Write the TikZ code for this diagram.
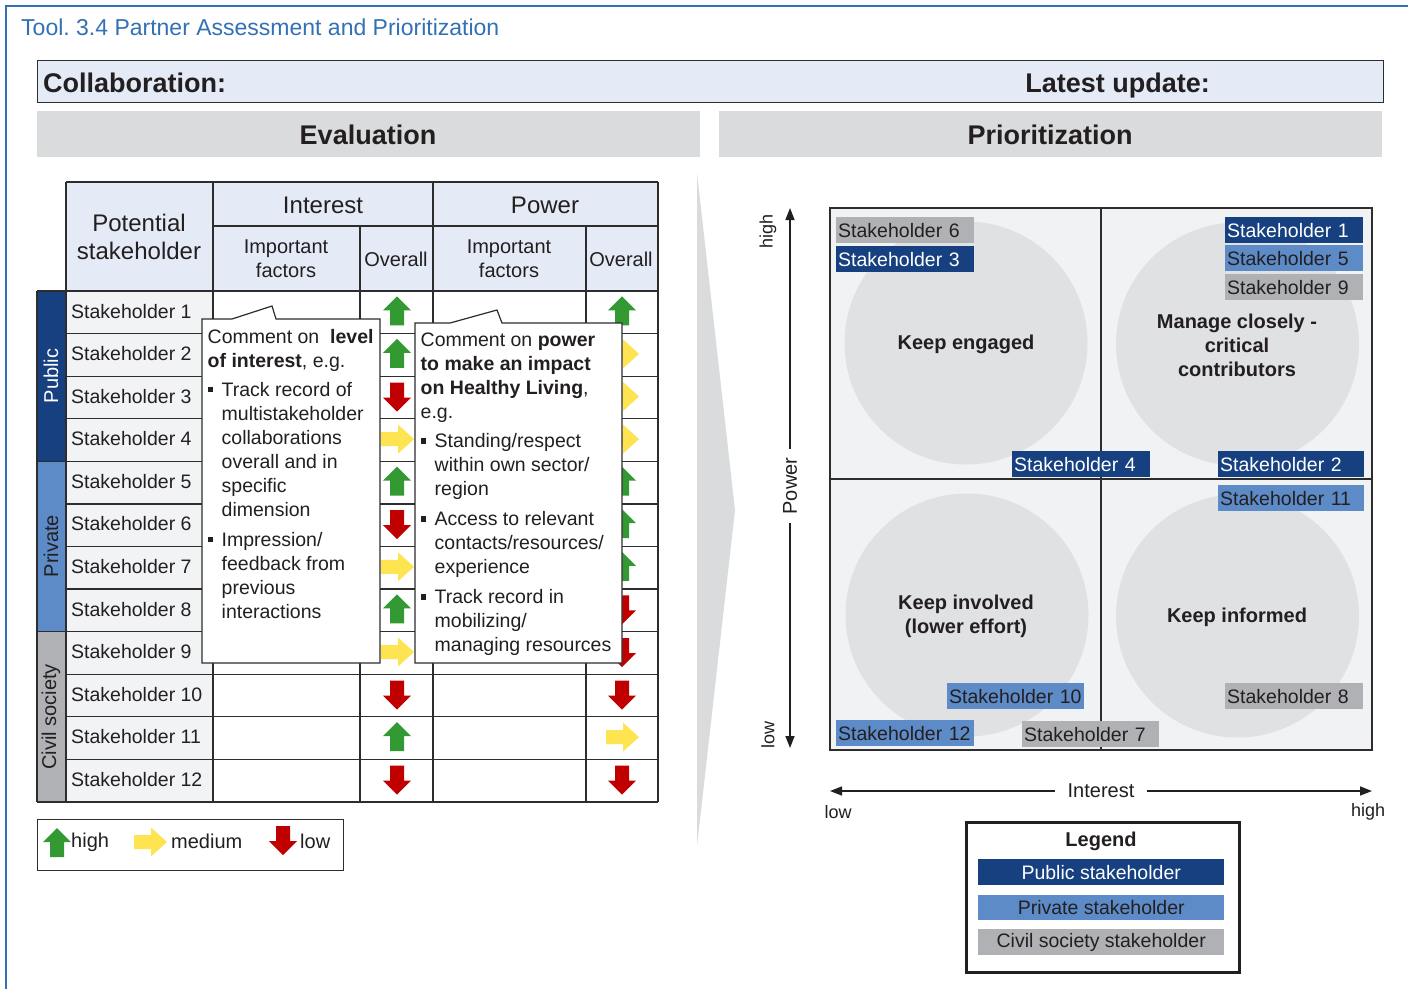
\documentclass[tikz,border=0pt]{standalone}
\usepackage{fontspec}
\setmainfont{Liberation Sans}
\usetikzlibrary{arrows.meta}
\frenchspacing
\definecolor{titleblue}{RGB}{52,112,180}
\definecolor{pubblue}{RGB}{22,64,128}
\definecolor{privblue}{RGB}{93,139,200}
\definecolor{civgray}{RGB}{176,177,181}
\definecolor{hdrblue}{RGB}{228,235,246}
\definecolor{bargray}{RGB}{218,219,221}
\definecolor{cellgray}{RGB}{242,243,245}
\definecolor{quadgray}{RGB}{241,242,244}
\definecolor{circgray}{RGB}{224,225,227}
\definecolor{linegray}{RGB}{45,45,45}
\definecolor{txt}{RGB}{35,31,32}
\definecolor{arrgreen}{RGB}{51,153,51}
\definecolor{arrred}{RGB}{192,0,0}
\definecolor{arryellow}{RGB}{253,228,80}
\newcommand\fs[2]{\fontsize{#1}{#2}\selectfont}
\newcommand\bul{\makebox[14pt][l]{\rule[4pt]{5.5pt}{5.5pt}}}
\newcommand\ind{\hspace*{14pt}}
\begin{document}
\begin{tikzpicture}[x=1pt,y=-1pt,
  every node/.style={inner sep=0pt, text=txt},
  grid/.style={draw=linegray, line width=1.3pt},
  stk/.style={font=\fs{19.5}{24}, anchor=west},
  hdr/.style={font=\fs{24}{28}, align=center},
  sub/.style={font=\fs{20}{24}, align=center},
  tag/.style={anchor=north west, font=\fs{19.5}{24}, inner xsep=2pt, inner ysep=0pt, minimum height=26pt, align=left},
  quad/.style={font=\fs{20}{24}\bfseries, align=center},
  callout/.style={fill=white, draw=linegray, line width=1.2pt},
  ctext/.style={anchor=north west, font=\fs{19.5}{24}, align=left},
  axis/.style={draw=txt, line width=1.5pt, {Triangle[length=12pt,width=9pt]}-{Triangle[length=12pt,width=9pt]}},
  upA/.pic={\fill[arrgreen] (0,-15)--(14,-1)--(7,-1)--(7,14)--(-7,14)--(-7,-1)--(-14,-1)--cycle;},
  dnA/.pic={\fill[arrred] (0,15)--(14,1)--(7,1)--(7,-14)--(-7,-14)--(-7,1)--(-14,1)--cycle;},
  rtA/.pic={\fill[arryellow] (17,0)--(1,-14.5)--(1,-7)--(-16,-7)--(-16,7)--(1,7)--(1,14.5)--cycle;}
]
\useasboundingbox (0,0) rectangle (1408,989);
\fill[white] (0,0) rectangle (1408,989);

% frame and title
\draw[titleblue, line width=2pt] (6,989) -- (6,6) -- (1408,6);
\node[anchor=west, text=titleblue, font=\fs{23}{26}] (title) at (21,27) {Tool. 3.4 Partner Assessment and Prioritization};

% collaboration bar
\node[draw=linegray, line width=1.3pt, fill=hdrblue, anchor=north west, minimum width=1346pt, minimum height=42pt] (collab) at (37,60) {};
\node[anchor=base west, font=\fs{27}{30}\bfseries] (collabt) at (43,92) {Collaboration:};
\node[anchor=base east, font=\fs{27}{30}\bfseries] (latest) at (1210,92) {Latest update:};

% section bars
\node[fill=bargray, anchor=north west, minimum width=663pt, minimum height=46pt] (evalbar) at (37,111) {};
\node[anchor=base, font=\fs{27}{30}\bfseries] (evalt) at (368,144) {Evaluation};
\node[fill=bargray, anchor=north west, minimum width=663pt, minimum height=46pt] (priobar) at (719,111) {};
\node[anchor=base, font=\fs{27}{30}\bfseries] (priot) at (1050,144) {Prioritization};

% chevron
\fill[bargray] (697,173) -- (735,510) -- (697,846) -- cycle;

% ---------- table ----------
\fill[hdrblue] (66,182) rectangle (658,291);
\fill[cellgray] (66,291) rectangle (213,802);
\fill[pubblue] (37,291) rectangle (66,461.3);
\fill[privblue] (37,461.3) rectangle (66,631.7);
\fill[civgray] (37,631.7) rectangle (66,802);
\foreach \i in {0,...,12} {
  \draw[grid] (66,291+42.583*\i) -- (658,291+42.583*\i);
}
\draw[grid] (37,291) -- (66,291);
\draw[grid] (37,461.3) -- (66,461.3);
\draw[grid] (37,631.7) -- (66,631.7);
\draw[grid] (37,802) -- (66,802);
\draw[grid] (66,182) -- (658,182);
\draw[grid] (213,226) -- (658,226);
\draw[grid] (37,291) -- (37,802);
\draw[grid] (66,182) -- (66,802);
\draw[grid] (213,182) -- (213,802);
\draw[grid] (360,226) -- (360,802);
\draw[grid] (433,182) -- (433,802);
\draw[grid] (586,226) -- (586,802);
\draw[grid] (658,182) -- (658,802);

\node[hdr] (hpot) at (139,237) {Potential\\stakeholder};
\node[hdr] (hint) at (323,205) {Interest};
\node[hdr] (hpow) at (545,205) {Power};
\node[sub] (hif1) at (286,259) {Important\\factors};
\node[sub] (hov1) at (396,259) {Overall};
\node[sub] (hif2) at (509,259) {Important\\factors};
\node[sub] (hov2) at (621,259) {Overall};

\node[rotate=90, font=\fs{20}{24}, text=white] (gpub) at (51,376) {Public};
\node[rotate=90, font=\fs{20}{24}] (gpriv) at (51,546) {Private};
\node[rotate=90, font=\fs{20}{24}] (gciv) at (51,717) {Civil society};

\foreach \i in {1,...,12} {
  \node[stk] (s\i) at (71,291+42.583*\i-22.5) {Stakeholder \i};
}

% interest overall arrows (x=397)
\pic at (397,311.3) {upA};
\pic at (397,353.9) {upA};
\pic at (397,396.5) {dnA};
\pic at (397,439.1) {rtA};
\pic at (397,481.6) {upA};
\pic at (397,524.2) {dnA};
\pic at (397,566.8) {rtA};
\pic at (397,609.4) {upA};
\pic at (397,652.0) {rtA};
\pic at (397,694.5) {dnA};
\pic at (397,737.1) {upA};
\pic at (397,779.7) {dnA};
% power overall arrows (x=622)
\pic at (622,311.3) {upA};
\pic at (622,353.9) {rtA};
\pic at (622,396.5) {rtA};
\pic at (622,439.1) {rtA};
\pic at (622,481.6) {upA};
\pic at (622,524.2) {upA};
\pic at (622,566.8) {upA};
\pic at (622,609.4) {dnA};
\pic at (622,652.0) {dnA};
\pic at (622,694.5) {dnA};
\pic at (622,737.1) {rtA};
\pic at (622,779.7) {dnA};

% callouts
\draw[callout] (202,319) -- (232,319) -- (272,306) -- (276,319) -- (380,319) -- (380,663) -- (202,663) -- cycle;
\node[ctext] (c1) at (207.5,329) {Comment on~~\textbf{level}\\
\textbf{of interest}, e.g.\\[5pt]
\bul Track record of\\
\ind multistakeholder\\
\ind collaborations\\
\ind overall and in\\
\ind specific\\
\ind dimension\\[6pt]
\bul Impression/\\
\ind feedback from\\
\ind previous\\
\ind interactions};

\draw[callout] (415,323) -- (450,323) -- (497,310) -- (502,323) -- (622,323) -- (622,663) -- (415,663) -- cycle;
\node[ctext] (c2) at (420.5,333) {Comment on \textbf{power}\\
\textbf{to make an impact}\\
\textbf{on Healthy Living},\\
e.g.\\[5pt]
\bul Standing/respect\\
\ind within own sector/\\
\ind region\\[6pt]
\bul Access to relevant\\
\ind contacts/resources/\\
\ind experience\\[6pt]
\bul Track record in\\
\ind mobilizing/\\
\ind managing resources};

% arrow legend
\node[draw=linegray, line width=1.3pt, fill=white, anchor=north west, minimum width=306pt, minimum height=51pt] (alegend) at (37,819) {};
\pic at (57,843) {upA};
\node[anchor=west, font=\fs{20}{24}] (lhigh) at (71,842) {high};
\pic at (150,842) {rtA};
\node[anchor=west, font=\fs{20}{24}] (lmed) at (171,841) {medium};
\pic at (283,840) {dnA};
\node[anchor=west, font=\fs{20}{24}] (llow) at (300,841) {low};

% ---------- prioritization matrix ----------
\fill[quadgray] (830,208) rectangle (1372,750);
\fill[circgray] (966,343) circle (121.5);
\fill[circgray] (1237.5,344) circle (121.5);
\fill[circgray] (967,615) circle (121.5);
\fill[circgray] (1237.5,616) circle (121.5);
\draw[grid] (830,208) rectangle (1372,750);
\draw[grid] (1101,208) -- (1101,750);
\draw[grid] (830,479) -- (1372,479);

\node[quad] (q1) at (966,344) {Keep engaged};
\node[quad] (q2) at (1237,345) {Manage closely -\\critical\\contributors};
\node[quad] (q3) at (966,616) {Keep involved\\(lower effort)};
\node[quad] (q4) at (1237,617) {Keep informed};

\node[tag, fill=civgray, text width=134pt] (t6) at (836,217) {Stakeholder 6};
\node[tag, fill=pubblue, text=white, text width=134pt] (t3) at (836,246) {Stakeholder 3};
\node[tag, fill=pubblue, text=white, text width=134pt] (t4) at (1012,451) {Stakeholder 4};
\node[tag, fill=pubblue, text=white, text width=134pt] (t1) at (1225,217) {Stakeholder 1};
\node[tag, fill=privblue, text width=134pt] (t5) at (1225,245) {Stakeholder 5};
\node[tag, fill=civgray, text width=134pt] (t9) at (1225,274) {Stakeholder 9};
\node[tag, fill=pubblue, text=white, text width=142pt] (t2) at (1218,451) {Stakeholder 2};
\node[tag, fill=privblue, text width=142pt] (t11) at (1218,485) {Stakeholder 11};
\node[tag, fill=privblue, text width=133pt] (t10) at (947,683) {Stakeholder 10};
\node[tag, fill=privblue, text width=134pt] (t12) at (836,720) {Stakeholder 12};
\node[tag, fill=civgray, text width=133pt] (t7) at (1022,721) {Stakeholder 7};
\node[tag, fill=civgray, text width=134pt] (t8) at (1225,683) {Stakeholder 8};

% axes
\coordinate (ptop) at (790,208);
\coordinate (pbot) at (790,748);
\draw[axis] (pbot) -- (ptop) node[pos=0.485, fill=white, rotate=90, inner xsep=9pt, inner ysep=2pt, font=\fs{20}{24}] (plab) {Power};
\node[rotate=90, font=\fs{18}{22}] (phigh) at (768,231) {high};
\node[rotate=90, font=\fs{18}{22}] (plow) at (768,735) {low};

\coordinate (ileft) at (830,791);
\coordinate (iright) at (1372,791);
\draw[axis] (ileft) -- (iright) node[pos=0.5, fill=white, inner xsep=13pt, inner ysep=2pt, font=\fs{20}{24}] (ilab) {Interest};
\node[font=\fs{18}{22}] (ilow) at (838,812) {low};
\node[font=\fs{18}{22}] (ihigh) at (1368,812) {high};

% legend
\node[draw=txt, line width=2.5pt, anchor=north west, minimum width=273pt, minimum height=150pt] (legbox) at (965,821) {};
\node[anchor=base, font=\fs{20}{24}\bfseries] (legt) at (1101,846) {Legend};
\node[fill=pubblue, text=white, anchor=north west, minimum width=246pt, minimum height=26pt, font=\fs{19.5}{24}] (lpub) at (978,859) {Public stakeholder};
\node[fill=privblue, anchor=north west, minimum width=246pt, minimum height=25pt, font=\fs{19.5}{24}] (lpriv) at (978,895) {Private stakeholder};
\node[fill=civgray, anchor=north west, minimum width=246pt, minimum height=26pt, font=\fs{19.5}{24}] (lciv) at (978,929) {Civil society stakeholder};
\end{tikzpicture}
\end{document}
